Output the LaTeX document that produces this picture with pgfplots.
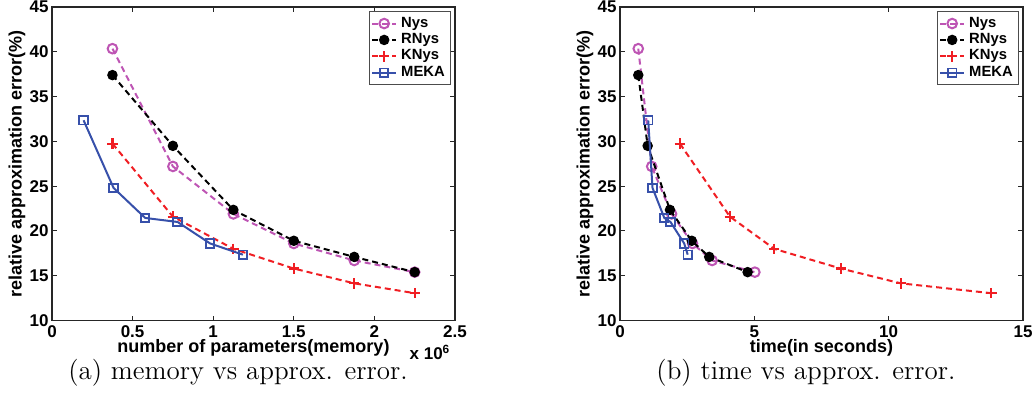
\documentclass[border=0pt]{standalone}
\usepackage{fontspec}
\usepackage{pgfplots}
\pgfplotsset{compat=1.18}
\newfontfamily\hv{Liberation Sans}
\definecolor{nys}{RGB}{190,85,180}
\definecolor{knys}{RGB}{240,30,35}
\definecolor{meka}{RGB}{55,80,170}
\pgfplotsset{
 mystyle/.style={
  scale only axis, width=201.5pt, height=156.75pt, anchor=south west,
  clip mode=individual,
  ymin=10, ymax=45, ytick={10,15,...,45},
  tick align=inside, major tick length=2.5pt,
  axis line style={line width=0.6pt, black!85},
  every tick/.style={black!85, line width=0.5pt},
  /pgf/number format/assume math mode=true,
  ticklabel style={font=\hv\bfseries\fontsize{8.5}{9}\selectfont},
  xticklabel style={inner sep=1pt, yshift=-1.5pt},
  yticklabel style={inner sep=1.5pt},
  label style={font=\hv\bfseries\fontsize{9}{10}\selectfont, inner sep=0pt},
  xlabel style={at={(axis description cs:0.5,0)}, anchor=center, yshift=-13.75pt},
  ylabel style={at={(axis description cs:0,0.5)}, anchor=center, yshift=17.5pt},
  ylabel={relative approximation error(\%)},
  legend style={font=\hv\bfseries\fontsize{7.4}{8}\selectfont, draw=black!70, line width=0.6pt,
    at={(0.99,0.988)}, anchor=north east, inner sep=0.8pt, row sep=-2.4pt},
  legend cell align=left,
  legend image code/.code={\draw[mark repeat=2,mark phase=2,#1] plot coordinates {(0pt,0pt)(6pt,0pt)(12pt,0pt)};},
 },
 nys/.style={color=nys, line width=1pt, dash pattern=on 3pt off 2pt, mark=o, mark size=2.4pt, mark options={solid, line width=1pt}},
 rnys/.style={color=black, line width=1pt, dash pattern=on 3pt off 2pt, mark=*, mark size=2.1pt, mark options={solid}},
 knys/.style={color=knys, line width=1pt, dash pattern=on 3pt off 2pt, mark=+, mark size=2.6pt, mark options={solid, line width=1.1pt}},
 meka/.style={color=meka, line width=1pt, solid, mark=square, mark size=2.1pt, mark options={solid, line width=0.9pt}},
}
\begin{document}
\begin{tikzpicture}
\path[use as bounding box] (0,0) rectangle (517pt,199pt);
\begin{axis}[mystyle, at={(26pt,38.75pt)},
  xmin=0, xmax=2.5, xtick={0,0.5,...,2.5},
  xlabel={number of parameters(memory)}]
\addplot[nys] coordinates {(0.375,40.35)(0.75,27.2)(1.125,21.9)(1.5,18.6)(1.875,16.7)(2.25,15.4)};
\addplot[rnys] coordinates {(0.375,37.4)(0.75,29.5)(1.125,22.35)(1.5,18.9)(1.875,17.1)(2.25,15.4)};
\addplot[knys] coordinates {(0.375,29.75)(0.75,21.6)(1.125,18.0)(1.5,15.8)(1.875,14.15)(2.25,13.05)};
\addplot[meka] coordinates {(0.196,32.35)(0.382,24.8)(0.578,21.45)(0.779,21.0)(0.981,18.6)(1.184,17.35)};
\legend{Nys,RNys,KNys,MEKA}
\node[font=\hv\bfseries\fontsize{8.5}{9}\selectfont, inner sep=0pt] at (rel axis cs:1,0) [xshift=-12.5pt, yshift=-16pt] {x 10\textsuperscript{6}};
\end{axis}
\begin{axis}[mystyle, at={(310pt,38.75pt)},
  xmin=0, xmax=15, xtick={0,5,10,15},
  xlabel={time(in seconds)}]
\addplot[nys] coordinates {(0.68,40.35)(1.18,27.2)(1.92,21.9)(2.70,18.6)(3.43,16.7)(5.02,15.4)};
\addplot[rnys] coordinates {(0.68,37.4)(1.03,29.5)(1.86,22.35)(2.67,18.9)(3.32,17.1)(4.75,15.4)};
\addplot[knys] coordinates {(2.23,29.75)(4.09,21.6)(5.74,18.0)(8.22,15.8)(10.45,14.15)(13.82,13.05)};
\addplot[meka] coordinates {(1.05,32.35)(1.21,24.8)(1.65,21.45)(1.88,21.0)(2.39,18.6)(2.52,17.35)};
\legend{Nys,RNys,KNys,MEKA}
\end{axis}
\node[font=\fontsize{13.5}{15}\selectfont, inner sep=0pt] at (119pt,12.5pt) {(a) memory vs approx. error.};
\node[font=\fontsize{13.5}{15}\selectfont, inner sep=0pt] at (403pt,12.5pt) {(b) time vs approx. error.};
\end{tikzpicture}
\end{document}
